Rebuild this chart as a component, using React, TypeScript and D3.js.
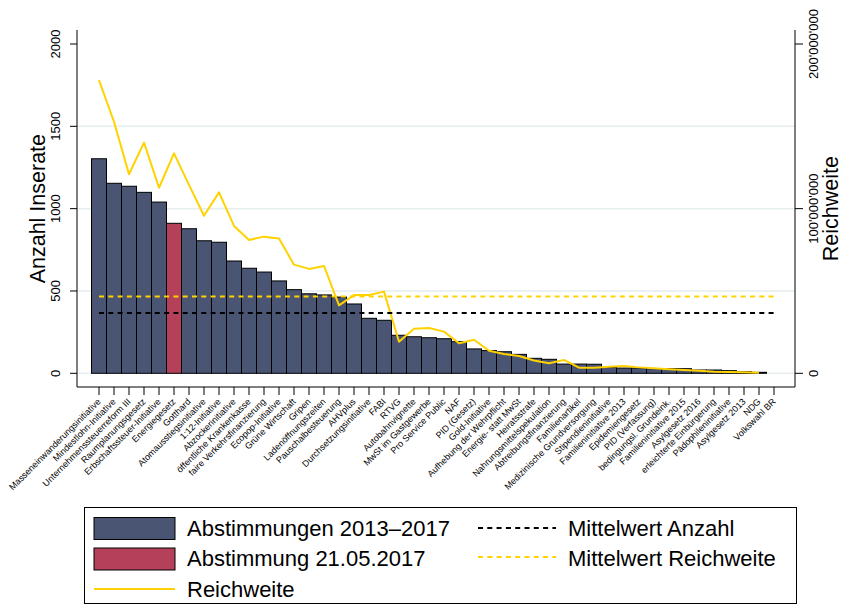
import React from 'react';
import * as d3 from 'd3';

const categories = [
  'Masseneinwanderungsinitiative', 'Mindestlohn-Initiative', 'Unternehmenssteuerreform III',
  'Raumplanungsgesetz', 'Erbschaftssteuer-Initiative', 'Energiegesetz', 'Gotthard',
  'Atomausstiegsinitiative', '1:12-Initiative', 'Abzockerinitiative', 'öffentliche Krankenkasse',
  'faire Verkehrsfinanzierung', 'Ecopop-Initiative', 'Grüne Wirtschaft', 'Gripen',
  'Ladenöffnungszeiten', 'Pauschalbesteuerung', 'AHVplus', 'Durchsetzungsinitiative', 'FABI',
  'RTVG', 'Autobahnvignette', 'MwSt im Gastgewerbe', 'Pro Service Public', 'NAF',
  'PID (Gesetz)', 'Gold-Initiative', 'Aufhebung der Wehrpflicht', 'Energie- statt MwSt',
  'Heiratsstrafe', 'Nahrungsmittelspekulation', 'Abtreibungsfinanzierung', 'Familienartikel',
  'Medizinische Grundversorgung', 'Stipendieninitiative', 'Familieninitiative 2013',
  'Epidemiengesetz', 'PID (Verfassung)', 'bedingungsl. Grundeink.', 'Familieninitiative 2015',
  'Asylgesetz 2016', 'erleichterte Einbürgerung', 'Pädophileninitiative', 'Asylgesetz 2013',
  'NDG', 'Volkswahl BR'
];

const anzahl = [
  1303, 1154, 1136, 1099, 1040, 911, 878, 805, 796, 682, 638, 615, 561, 508, 483, 476, 463, 421,
  334, 322, 231, 222, 216, 210, 192, 148, 138, 131, 115, 91, 85, 56, 56, 55, 36, 32, 32, 28, 28,
  28, 20, 20, 16, 10, 6, 0
];

// Reichweite in millions
const reichweiteMio: (number | null)[] = [
  178.1, 152.8, 120.9, 140.1, 112.7, 133.6, 114.4, 95.7, 109.9, 89.5, 81.0, 83.0, 81.8, 66.0,
  63.4, 65.2, 41.3, 47.5, 47.5, 49.6, 19.2, 27.1, 27.5, 25.3, 18.2, 20.4, 13.7, 11.7, 10.5, 7.8,
  6.1, 8.1, 3.4, 3.4, 4.0, 4.4, 3.6, 3.0, 2.4, 2.0, 1.6, 1.0, 0.8, 0.6, 0.4, null
];

const highlight = 'Energiegesetz';
const leftTicks = [0, 500, 1000, 1500, 2000];
const gridTicks = [0, 500, 1000, 1500];
const rightTicksMio = [0, 100, 200];

const FONT = "'Liberation Sans', Arial, Helvetica, sans-serif";
const NAVY = '#4A5573';
const RED = '#B4405A';
const GOLD = '#FFD200';
const GRID = '#E6EEF0';

export default function App() {
  const W = 843, H = 608;
  const x = d3.scaleBand<string>().domain(categories).range([91.5, 781.5]).padding(0);
  const bw = x.bandwidth();
  const cx = (c: string) => (x(c) as number) + bw / 2;
  const y = d3.scaleLinear().domain([0, 2000]).range([373.3, 44]);
  const yR = d3.scaleLinear().domain([0, 200]).range([373.3, 44]);

  const meanA = d3.mean(anzahl) as number;
  const meanR = d3.mean(reichweiteMio.filter((v) => v != null) as number[]) as number;

  const pts = categories.map((c, i) => ({ c, v: reichweiteMio[i] }));
  const line = d3.line<{ c: string; v: number | null }>()
    .defined((d) => d.v != null)
    .x((d) => cx(d.c))
    .y((d) => yR(d.v as number));

  const fmtR = (v: number) => d3.format(',')(v * 1e6).replace(/,/g, "'");
  const first = cx(categories[0]);
  const last = cx(categories[categories.length - 1]);

  return (
    <svg width={W} height={H} style={{ position: 'absolute', left: 0, top: 0, display: 'block', background: '#fff' }} fontFamily={FONT}>
      <rect x={0} y={0} width={W} height={H} fill="#fff" />
      {/* grid */}
      {gridTicks.map((t) => (
        <line key={'g' + t} x1={77} x2={795} y1={y(t)} y2={y(t)} stroke={GRID} strokeWidth={1.5} />
      ))}
      {/* bars */}
      {categories.map((c, i) => anzahl[i] > 0 ? (
        <rect key={'b' + c} x={x(c)} y={y(anzahl[i])} width={bw} height={y(0) - y(anzahl[i])}
          fill={c === highlight ? RED : NAVY} stroke="#000" strokeWidth={1} />
      ) : null)}
      {/* Reichweite line */}
      <path d={line(pts) || ''} fill="none" stroke={GOLD} strokeWidth={2} strokeLinejoin="round" />
      {/* mean lines */}
      <line x1={first} x2={last} y1={yR(meanR)} y2={yR(meanR)} stroke={GOLD} strokeWidth={2} strokeDasharray="5 4.3" />
      <line x1={first} x2={last} y1={y(meanA)} y2={y(meanA)} stroke="#000" strokeWidth={2} strokeDasharray="5 4.3" />

      {/* left axis */}
      <line x1={77} x2={77} y1={30} y2={387} stroke="#000" strokeWidth={1} />
      {leftTicks.map((t) => (
        <g key={'l' + t}>
          <line x1={70} x2={77} y1={y(t)} y2={y(t)} stroke="#000" strokeWidth={1} />
          <text transform={`translate(59.5,${y(t)}) rotate(-90)`} textAnchor="middle" fontSize={13}>{t}</text>
        </g>
      ))}
      <text transform={`translate(45,${(y(0) + y(2000)) / 2}) rotate(-90)`} textAnchor="middle" fontSize={21.5}>Anzahl Inserate</text>

      {/* right axis */}
      <line x1={795} x2={795} y1={30} y2={387} stroke="#000" strokeWidth={1} />
      {rightTicksMio.map((t) => (
        <g key={'r' + t}>
          <line x1={795} x2={803} y1={yR(t)} y2={yR(t)} stroke="#000" strokeWidth={1} />
          <text transform={`translate(818,${yR(t)}) rotate(-90)`} textAnchor="middle" fontSize={13}>{fmtR(t)}</text>
        </g>
      ))}
      <text transform={`translate(838,${(yR(0) + yR(200)) / 2}) rotate(-90)`} textAnchor="middle" fontSize={21.5}>Reichweite</text>

      {/* x axis */}
      <line x1={77} x2={795} y1={387} y2={387} stroke="#000" strokeWidth={1} />
      {categories.map((c) => (
        <g key={'x' + c}>
          <line x1={cx(c)} x2={cx(c)} y1={387} y2={395} stroke="#000" strokeWidth={1} />
          <text transform={`translate(${cx(c)},400) rotate(-45)`} textAnchor="end" dy="0.35em" fontSize={9}>{c}</text>
        </g>
      ))}

      {/* legend */}
      <rect x={84.5} y={507.5} width={712} height={96} fill="#fff" stroke="#000" strokeWidth={1} />
      <rect x={94} y={517.5} width={81} height={22} fill={NAVY} stroke="#000" strokeWidth={1} />
      <text x={187} y={536} fontSize={22}>Abstimmungen 2013–2017</text>
      <rect x={94} y={548} width={81} height={22} fill={RED} stroke="#000" strokeWidth={1} />
      <text x={187} y={566} fontSize={22}>Abstimmung 21.05.2017</text>
      <line x1={94} x2={175} y1={589} y2={589} stroke={GOLD} strokeWidth={2} />
      <text x={187} y={597} fontSize={22}>Reichweite</text>
      <line x1={478} x2={556} y1={528} y2={528} stroke="#000" strokeWidth={2} strokeDasharray="5 4.3" />
      <text x={568} y={536} fontSize={22}>Mittelwert Anzahl</text>
      <line x1={478} x2={556} y1={557} y2={557} stroke={GOLD} strokeWidth={2} strokeDasharray="5 4.3" />
      <text x={568} y={566} fontSize={22}>Mittelwert Reichweite</text>
    </svg>
  );
}
